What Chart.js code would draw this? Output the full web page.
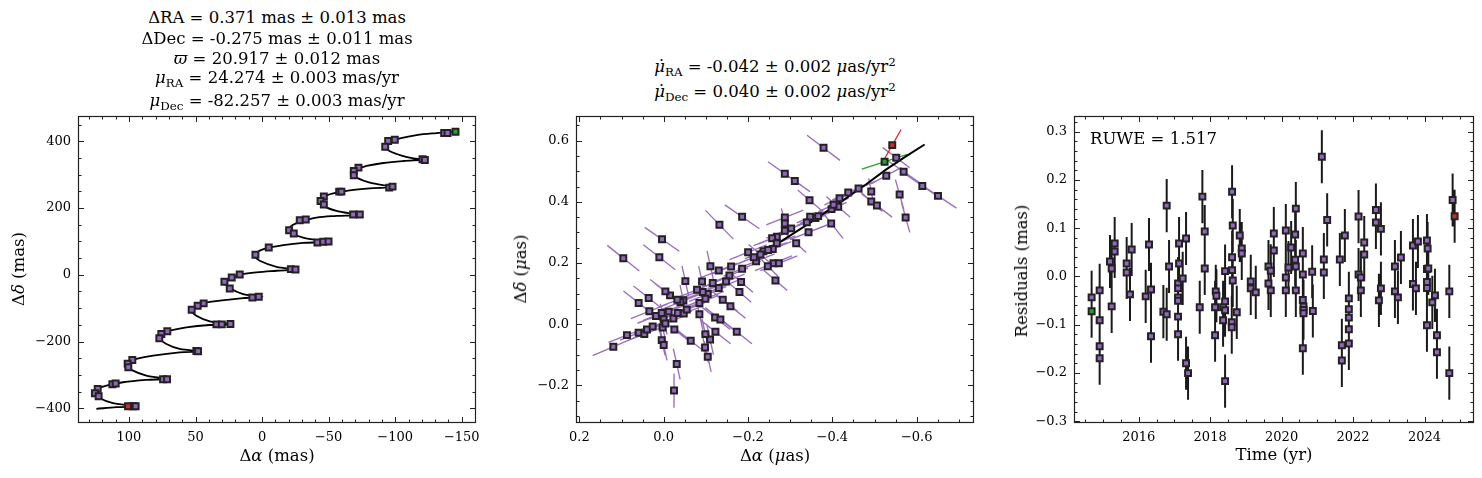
<!DOCTYPE html>
<html>
<head>
<meta charset="utf-8">
<script src="https://cdn.jsdelivr.net/npm/chart.js@4.4.1/dist/chart.umd.min.js"></script>
<style>
  body { margin: 0; background: #fff; }
  #fig { position: relative; width: 1482px; height: 478px; overflow: hidden; font-family: 'DejaVu Serif', serif; color: #000; }
  canvas { position: absolute; top: 110px; }
  .t { position: absolute; text-align: center; font-size: 16.5px; line-height: 20px; white-space: nowrap; }
  .t sub { font-size: 0.72em; vertical-align: -0.3em; line-height: 0; }
  .t sup { font-size: 0.72em; vertical-align: 0.5em; line-height: 0; }
  .yl { position: absolute; font-size: 16.5px; line-height: 20px; white-space: nowrap; transform: translate(-50%, -50%) rotate(-90deg); }
</style>
</head>
<body>
<div id="fig">
  <canvas id="c1" width="490" height="368" style="left:0"></canvas>
  <canvas id="c2" width="490" height="368" style="left:500px"></canvas>
  <canvas id="c3" width="482" height="368" style="left:1000px"></canvas>

  <div class="t" style="left:78px;width:398px;top:8px">ΔRA = 0.371 mas ± 0.013 mas</div>
  <div class="t" style="left:78px;width:398px;top:29px">ΔDec = -0.275 mas ± 0.011 mas</div>
  <div class="t" style="left:78px;width:398px;top:49px"><i>ϖ</i> = 20.917 ± 0.012 mas</div>
  <div class="t" style="left:78px;width:398px;top:68px"><i>μ</i><sub>RA</sub> = 24.274 ± 0.003 mas/yr</div>
  <div class="t" style="left:78px;width:398px;top:91px"><i>μ</i><sub>Dec</sub> = -82.257 ± 0.003 mas/yr</div>

  <div class="t" style="left:576px;width:398px;top:57px"><i>μ̇</i><sub>RA</sub> = -0.042 ± 0.002 <i>μ</i>as/yr<sup>2</sup></div>
  <div class="t" style="left:576px;width:398px;top:82px"><i>μ̇</i><sub>Dec</sub> = 0.040 ± 0.002 <i>μ</i>as/yr<sup>2</sup></div>

  <div class="t" style="left:78px;width:398px;top:446px">Δ<i>α</i> (mas)</div>
  <div class="t" style="left:576px;width:398px;top:446px">Δ<i>α</i> (<i>μ</i>as)</div>
  <div class="t" style="left:1074px;width:400px;top:445px">Time (yr)</div>
  <div class="yl" style="left:19px;top:269px">Δ<i>δ</i> (mas)</div>
  <div class="yl" style="left:521px;top:269px">Δ<i>δ</i> (<i>μ</i>as)</div>
  <div class="yl" style="left:1022px;top:271px">Residuals (mas)</div>

  <div class="t" style="left:1090px;top:129px;text-align:left">RUWE = 1.517</div>
</div>

<script>
// ---- panel 1: sky track (mas) ----
const trackX = [-144.8, -131.1, -116.0, -103.5, -96.0, -92.2, -94.7, -103.5, -113.5, -121.5,
  -106.0, -91.0, -78.4, -70.9, -68.4, -70.9, -80.9, -97.2,
  -80.9, -65.9, -53.4, -45.9, -43.4, -45.9, -55.9, -70.9,
  -55.9, -40.8, -30.8, -23.3, -20.0, -23.8, -30.8, -45.9,
  -30.8, -15.8, -3.3, 4.3, 5.5, 1.8, -10.8, -24.6,
  -10.8, 4.3, 16.8, 23.1, 28.1, 24.3, 14.3, -0.3,
  14.3, 31.8, 44.4, 50.6, 53.1, 49.4, 39.3, 23.1,
  39.3, 56.9, 69.4, 74.4, 76.9, 71.9, 61.9, 46.9,
  61.9, 81.9, 94.5, 99.5, 101.5, 98.2, 87.0, 71.9,
  87.0, 104.5, 117.0, 123.3, 125.8, 123.3, 112.0, 95.0,
  109.5, 124.5];
const trackY = [428.5, 424.5, 418.5, 408.6, 398.6, 387.6, 372.7, 358.7, 348.8, 344.8,
  340.8, 334.8, 325.9, 315.9, 300.9, 291.0, 276.0, 263.1,
  259.1, 253.1, 244.1, 233.2, 219.2, 206.3, 191.3, 179.4,
  176.4, 171.4, 161.4, 149.5, 133.5, 121.6, 111.6, 98.7,
  95.7, 88.7, 79.7, 66.8, 55.8, 41.9, 23.9, 15.9,
  12.0, 7.0, 0.0, -10.0, -20.9, -39.9, -57.8, -65.8,
  -69.8, -77.7, -85.7, -97.7, -107.6, -122.6, -139.5, -148.5,
  -150.5, -157.4, -167.4, -175.4, -190.3, -207.3, -222.2, -229.2,
  -232.2, -242.1, -252.1, -260.1, -272.0, -285.0, -301.9, -311.9,
  -314.9, -321.9, -331.8, -341.8, -354.8, -366.7, -384.6, -393.6,
  -396.6, -401.6];

const posX = [-136.8, -139.3, -94.7, -99.7, -92.5, -120.5, -122.3, -72.4, -68.9, -68.9,
  -95.5, -98.0, -57.9, -59.6, -46.4, -43.9, -46.4, -68.4, -73.4, -28.3,
  -32.8, -20.3, -23.8, -41.6, -45.9, -49.9, -5.0, 5.0, -21.6, -25.1,
  16.8, 22.8, 28.3, 24.3, 7.3, 2.5, 43.9, 48.4, 52.9, 34.3,
  30.3, 23.8, 71.2, 75.7, 77.2, 49.4, 48.1, 97.5, 101.0, 100.5,
  74.4, 71.4, 112.5, 110.0, 123.5, 125.6, 122.8, 97.0, 95.0];
const posY = [424.5, 424.5, 400.6, 404.6, 383.7, 345.8, 343.8, 320.9, 310.9, 298.0,
  261.1, 264.1, 249.1, 249.1, 234.2, 221.2, 210.3, 180.4, 180.4, 163.4,
  165.4, 133.5, 123.6, 96.7, 98.7, 99.7, 81.7, 59.8, 16.9, 15.9,
  1.0, -8.0, -20.9, -40.9, -67.8, -65.8, -85.7, -92.7, -104.6, -148.5,
  -148.5, -147.5, -169.4, -177.4, -190.3, -228.2, -229.2, -255.1, -266.1, -277.0,
  -312.9, -312.9, -327.8, -325.9, -341.8, -354.8, -363.7, -393.6, -393.6];
const posFirst = [-145.3, 428.5];   // green, first epoch
const posLast = [100.7, -393.6];    // red, last epoch

const ticks1X = [100, 50, 0, -50, -100, -150];
const ticks1Y = [-400, -200, 0, 200, 400];

// ---- panel 2: acceleration residuals (uas) ----
const accX = [-0.3791, -0.5516, -0.2873, -0.3110, -0.3459, -0.5279, -0.5691, -0.6134, -0.6506, -0.4923,
  -0.4923, -0.5057, -0.5596, -0.5738, -0.4622, -0.4377, -0.4171, -0.4139, -0.3981, -0.4028,
  -0.3973, -0.3601, -0.3664, -0.3474, -0.3395, -0.3435, -0.3142, -0.2873, -0.2873, -0.2873,
  -0.3023, -0.2683, -0.2572, -0.2683, -0.2588, -0.2604, -0.2731, -0.2651, -0.2366, -0.2477,
  -0.2295, -0.2469, -0.2192, -0.2137, -0.2002, -0.1860, -0.1322, -0.1860, -0.1836, -0.1797,
  -0.1599, -0.1559, -0.1480, -0.1306, -0.1306, -0.1108, -0.1163, -0.1045, -0.0926, -0.0791,
  -0.0847, -0.0910, -0.0514, -0.0467, -0.0396, -0.0324, -0.0150, -0.0040, 0.0356, 0.0594,
  0.0340, 0.0182, 0.0047, 0.0000, -0.0119, -0.0230, -0.0253, -0.0332, -0.0475, -0.0546,
  -0.0847, -0.0989, -0.1401, -0.1583, -0.1219, -0.1345, -0.1733, -0.1227, -0.1100, -0.0989,
  -0.1045, -0.0981, -0.0641, 0.0047, 0.0000, 0.0024, -0.0040, -0.0309, -0.0245, 0.1195,
  0.0871, 0.0594, 0.0459, 0.0396, 0.0261, 0.0958, 0.0040, 0.0103];
const accY = [0.5767, 0.5442, 0.4921, 0.4683, 0.4054, 0.4856, 0.4986, 0.4520, 0.4195, 0.4336,
  0.4011, 0.3881, 0.4238, 0.3491, 0.4434, 0.4304, 0.4119, 0.3837, 0.3762, 0.3902,
  0.3295, 0.3469, 0.3534, 0.3512, 0.3328, 0.3003, 0.2645, 0.3491, 0.3295, 0.3057,
  0.3133, 0.2862, 0.2808, 0.2645, 0.2461, 0.1995, 0.1995, 0.1431, 0.2385, 0.2428,
  0.2276, 0.1897, 0.2060, 0.2190, 0.2352, 0.3512, 0.3252, 0.1810, 0.1377, 0.1051,
  0.1886, 0.1593, 0.1398, 0.1756, 0.1182, 0.1897, 0.1344, 0.0986, 0.1051, 0.1127,
  0.0694, 0.1398, 0.1409, 0.0780, 0.0726, 0.0802, 0.0943, 0.1073, 0.0856, 0.0694,
  0.0423, 0.0271, 0.0369, 0.0163, 0.0412, 0.0184, -0.0173, 0.0369, 0.0347, 0.0477,
  0.0325, 0.0835, 0.0802, 0.0585, 0.0217, 0.0152, -0.0249, -0.0249, -0.0499, -0.0325,
  -0.1062, -0.0759, -0.0542, -0.0520, -0.0683, -0.0108, 0.0022, -0.1301, -0.2168, -0.0737,
  -0.0358, -0.0282, -0.0325, -0.0173, -0.0076, 0.2157, 0.2775, 0.2190];
// half extent of each error line (uas), along RA and Dec
const accEx = [-0.039, -0.032, -0.040, -0.036, -0.028, -0.036, -0.040, -0.040, -0.044, -0.006,
  -0.026, -0.036, -0.010, -0.010, -0.040, -0.038, -0.036, -0.028, -0.036, -0.036,
  -0.028, -0.044, -0.044, -0.032, -0.044, -0.044, -0.024, -0.044, -0.008, -0.044,
  -0.044, -0.044, -0.044, -0.044, -0.044, -0.044, -0.044, -0.028, -0.044, -0.044,
  -0.028, -0.024, -0.044, -0.044, -0.044, -0.041, -0.033, -0.044, -0.028, -0.028,
  -0.044, -0.044, -0.044, -0.044, -0.044, -0.008, -0.044, -0.044, -0.044, -0.044,
  -0.044, -0.008, -0.008, -0.008, -0.044, -0.044, -0.036, -0.036, -0.036, -0.036,
  -0.044, -0.044, -0.044, -0.008, -0.044, -0.044, -0.036, -0.044, -0.044, -0.044,
  -0.008, -0.044, -0.036, -0.036, -0.036, -0.036, -0.036, -0.036, -0.008, -0.008,
  -0.008, -0.008, -0.036, -0.008, -0.008, -0.008, -0.044, -0.008, 0.000, -0.049,
  -0.044, -0.044, -0.044, -0.044, -0.044, -0.038, -0.041, -0.038];
const accEy = [-0.041, -0.033, -0.039, -0.035, -0.033, 0.027, -0.038, -0.038, -0.040, -0.043,
  -0.033, -0.038, -0.049, -0.049, 0.024, 0.024, 0.022, -0.033, 0.022, 0.022,
  -0.049, 0.024, 0.024, 0.020, 0.024, 0.024, -0.030, 0.024, -0.049, 0.024,
  0.024, 0.024, 0.024, 0.024, 0.024, 0.024, 0.024, -0.033, 0.024, 0.024,
  -0.033, -0.033, 0.024, 0.024, 0.024, -0.039, -0.047, 0.024, -0.033, -0.033,
  0.024, 0.024, 0.024, 0.024, 0.024, -0.050, 0.024, 0.024, 0.024, 0.024,
  0.024, -0.050, -0.050, -0.050, 0.024, 0.024, -0.039, -0.039, -0.039, -0.039,
  0.024, 0.024, 0.024, -0.050, 0.024, 0.024, -0.039, 0.024, 0.024, 0.024,
  -0.050, 0.024, -0.039, -0.039, -0.039, -0.039, -0.039, -0.039, -0.050, -0.050,
  -0.050, -0.050, -0.039, -0.050, -0.050, -0.050, 0.024, -0.050, -0.056, 0.029,
  0.024, 0.024, 0.024, 0.024, 0.024, -0.042, -0.039, -0.041];
const accFirst = [-0.5239, 0.5312, -0.054, 0.024];  // green: x, y, half ex, half ey
const accLast = [-0.5421, 0.5854, -0.021, 0.051];   // red
const modelX = [-0.2746, -0.3459, -0.4131, -0.4804, -0.5279, -0.5754, -0.6189];
const modelY = [0.2678, 0.3306, 0.3935, 0.4575, 0.5062, 0.5496, 0.5875];

const ticks2X = [0.2, 0.0, -0.2, -0.4, -0.6];
const ticks2Y = [-0.2, 0.0, 0.2, 0.4, 0.6];

// ---- panel 3: residuals vs time ----
const residT = [2014.683,
  2014.908, 2014.908, 2014.908, 2014.908,
  2015.197, 2015.244, 2015.244, 2015.328, 2015.328,
  2015.664, 2015.664, 2015.757, 2015.804,
  2016.196, 2016.289, 2016.345, 2016.345,
  2016.691, 2016.784, 2016.784, 2016.850,
  2017.102, 2017.102, 2017.102, 2017.102, 2017.102, 2017.102,
  2017.130, 2017.130, 2017.232, 2017.326, 2017.326, 2017.382,
  2017.709, 2017.783, 2017.849, 2017.849,
  2018.138, 2018.157, 2018.176, 2018.138,
  2018.362, 2018.362, 2018.418, 2018.418, 2018.418, 2018.418,
  2018.614, 2018.633, 2018.614, 2018.614, 2018.633, 2018.605, 2018.605, 2018.745,
  2018.829, 2018.885, 2018.885,
  2019.137, 2019.137, 2019.277,
  2019.632, 2019.632, 2019.697, 2019.697, 2019.782, 2019.782,
  2020.118, 2020.118, 2020.118,
  2020.192, 2020.267, 2020.379, 2020.398, 2020.379, 2020.398, 2020.398,
  2020.594, 2020.594, 2020.594, 2020.613, 2020.613, 2020.613, 2020.594,
  2020.855, 2020.874,
  2021.126, 2021.182, 2021.182, 2021.275,
  2021.630, 2021.686, 2021.686, 2021.770,
  2021.882, 2021.882, 2021.882, 2021.882, 2021.882,
  2022.153, 2022.153, 2022.218, 2022.218, 2022.312, 2022.312,
  2022.639, 2022.639, 2022.779, 2022.779, 2022.723,
  2023.171, 2023.171, 2023.255, 2023.339,
  2023.675, 2023.675, 2023.759, 2023.815,
  2024.067, 2024.086, 2024.067, 2024.067, 2024.067, 2024.067, 2024.105,
  2024.217, 2024.291, 2024.347, 2024.347,
  2024.693, 2024.693, 2024.786];
const residR = [-0.0434,
  -0.0289, -0.0909, -0.1446, -0.1694,
  0.0310, 0.0165, -0.0620, 0.0682, 0.0517,
  0.0269, 0.0083, -0.0372, 0.0558,
  -0.0413, 0.0661, -0.0269, -0.1240,
  -0.0730, 0.1467, -0.0785, 0.0207,
  -0.0145, -0.0248, -0.0434, -0.0503, -0.0833, -0.1198,
  0.0682, 0.0269, -0.0041, 0.0785, -0.1798, -0.2004,
  -0.0640, 0.1653, 0.0930, 0.0165,
  -0.1219, -0.0310, -0.0399, -0.0640,
  -0.0640, -0.0909, -0.0517, -0.0702, -0.2169, 0.0110,
  0.1756, 0.1054, 0.0399, 0.0131, -0.0083, -0.0950, -0.1054, -0.0744,
  0.0847, 0.0579, 0.0475,
  -0.0103, -0.0248, -0.0331,
  0.0207, -0.0145, 0.0117, -0.0289, 0.0888, 0.0537,
  0.0950, -0.0021, -0.0289,
  0.0186, 0.0599, 0.0868, 0.1405, 0.0344, 0.0207, -0.0289,
  0.0475, 0.0041, -0.0489, -0.0620, -0.0696, -0.0764, -0.1488,
  0.0096, -0.0716,
  0.2479, 0.0351, 0.0083, 0.1171,
  0.0351, -0.1426, -0.1742, 0.0847,
  -0.0455, -0.0682, -0.0854, -0.1095, -0.1391,
  0.1240, 0.0041, -0.0021, -0.0289, 0.0702, 0.0455,
  0.1377, 0.1116, 0.0985, -0.0248, -0.0496,
  0.0207, -0.0310, -0.0434, 0.0393,
  -0.0158, 0.0640, -0.0248, 0.0723,
  0.0744, 0.0579, 0.0152, -0.0117, -0.0241, -0.1012, 0.0165,
  -0.0537, -0.0393, -0.1219, -0.1570,
  -0.0310, -0.2004, 0.1584];
const residFirst = [2014.683, -0.0723];
const residLast = [2024.842, 0.1247];
const residSigma = 0.055;   // bars all look the same length

const ticks3X = [2016, 2018, 2020, 2022, 2024];
const ticks3Y = [-0.3, -0.2, -0.1, 0.0, 0.1, 0.2, 0.3];

// ---- helpers ----
const PURPLE = '#9467bd', RED = '#d62728', GREEN = '#2ca02c', EDGE = '#222';
const FONT = { family: "'DejaVu Serif', serif", size: 13 };
Chart.defaults.color = '#000';

const pts = (xs, ys) => xs.map((x, i) => ({ x, y: ys[i] }));
const minus = (s) => String(s).replace('-', '\u2212');

// line pieces through each point, split by null gaps
function pieces(xs, ys, ex, ey) {
  const out = [];
  xs.forEach((x, i) => {
    out.push({ x: x - ex[i], y: ys[i] - ey[i] }, { x: x + ex[i], y: ys[i] + ey[i] }, { x, y: null });
  });
  return out;
}

function marker(data, color, order) {
  return {
    data, order,
    pointStyle: 'rect', pointRadius: 4.2, pointHoverRadius: 4.2,
    pointBorderWidth: 2, pointHoverBorderWidth: 2,
    pointBackgroundColor: color, pointBorderColor: EDGE
  };
}

function lineSet(data, color, width, order, tension) {
  return {
    data, order, showLine: true, spanGaps: false,
    borderColor: color, borderWidth: width, tension: tension || 0,
    pointRadius: 0, pointHoverRadius: 0
  };
}

// inward ticks on all four sides, plus the box
const frameTicks = {
  id: 'frameTicks',
  afterDraw(chart, args, o) {
    const { ctx, chartArea: a, scales: { x, y } } = chart;
    ctx.save();
    ctx.strokeStyle = '#222';
    ctx.lineWidth = 1;
    const L = Math.round(a.left) + 0.5, R = Math.round(a.right) - 0.5;
    const T = Math.round(a.top) + 0.5, B = Math.round(a.bottom) - 0.5;
    const vals = (min, max, step) => {
      const v = [];
      for (let k = Math.ceil(min / step - 1e-9); k <= Math.floor(max / step + 1e-9); k++) v.push(k * step);
      return v;
    };
    const drawX = (list, len) => list.forEach(v => {
      const p = Math.round(x.getPixelForValue(v)) + 0.5;
      if (p < L || p > R) return;
      ctx.beginPath();
      ctx.moveTo(p, B); ctx.lineTo(p, B - len);
      ctx.moveTo(p, T); ctx.lineTo(p, T + len);
      ctx.stroke();
    });
    const drawY = (list, len) => list.forEach(v => {
      const p = Math.round(y.getPixelForValue(v)) + 0.5;
      if (p < T || p > B) return;
      ctx.beginPath();
      ctx.moveTo(L, p); ctx.lineTo(L + len, p);
      ctx.moveTo(R, p); ctx.lineTo(R - len, p);
      ctx.stroke();
    });
    drawX(vals(x.min, x.max, o.xMinor), 3);
    drawY(vals(y.min, y.max, o.yMinor), 3);
    drawX(o.xMajor, 5.5);
    drawY(o.yMajor, 5.5);
    ctx.lineWidth = 1.2;
    ctx.strokeRect(L, T, R - L, B - T);
    ctx.restore();
  }
};

function makeChart(id, datasets, ax) {
  return new Chart(document.getElementById(id), {
    type: 'scatter',
    data: { datasets },
    plugins: [frameTicks],
    options: {
      responsive: false, animation: false, events: [],
      layout: { padding: { left: 0, right: ax.padRight, top: 5, bottom: 0 } },
      plugins: {
        legend: { display: false }, tooltip: { enabled: false },
        frameTicks: { xMajor: ax.xTicks, yMajor: ax.yTicks, xMinor: ax.xMinor, yMinor: ax.yMinor }
      },
      scales: {
        x: {
          type: 'linear', min: ax.xMin, max: ax.xMax, reverse: !!ax.xReverse,
          grid: { display: false, drawTicks: false }, border: { display: false },
          ticks: { font: FONT, padding: 7, maxRotation: 0, autoSkip: false, callback: ax.xFmt },
          afterBuildTicks: s => { s.ticks = ax.xTicks.map(v => ({ value: v })); },
          afterFit: s => { s.height = 55; s.paddingLeft = 0; s.paddingRight = 0; }
        },
        y: {
          type: 'linear', min: ax.yMin, max: ax.yMax,
          grid: { display: false, drawTicks: false }, border: { display: false },
          ticks: { font: FONT, padding: 7, autoSkip: false, callback: ax.yFmt },
          afterBuildTicks: s => { s.ticks = ax.yTicks.map(v => ({ value: v })); },
          afterFit: s => { s.width = ax.yWidth; s.paddingTop = 0; s.paddingBottom = 0; }
        }
      }
    }
  });
}

// ---- panel 1 ----
makeChart('c1', [
  marker(pts([posFirst[0]], [posFirst[1]]), GREEN, 0),
  marker(pts([posLast[0]], [posLast[1]]), RED, 0),
  marker(pts(posX, posY), PURPLE, 1),
  lineSet(pts(trackX, trackY), '#000', 1.8, 2, 0.35)
], {
  xMin: -160.7, xMax: 138.3, xReverse: true, yMin: -444, yMax: 475,
  xTicks: ticks1X, yTicks: ticks1Y, xMinor: 10, yMinor: 50,
  yWidth: 78, padRight: 14,
  xFmt: v => minus(v), yFmt: v => minus(v)
});

// ---- panel 2 ----
makeChart('c2', [
  marker(pts([accFirst[0]], [accFirst[1]]), GREEN, 0),
  marker(pts([accLast[0]], [accLast[1]]), RED, 0),
  marker(pts(accX, accY), PURPLE, 1),
  lineSet(pts(modelX, modelY), '#000', 2, 2),
  lineSet(pieces([accFirst[0]], [accFirst[1]], [accFirst[2]], [accFirst[3]]), GREEN, 1.3, 3),
  lineSet(pieces([accLast[0]], [accLast[1]], [accLast[2]], [accLast[3]]), RED, 1.3, 3),
  lineSet(pieces(accX, accY, accEx, accEy), 'rgba(148,103,189,0.95)', 1.35, 4)
], {
  xMin: -0.736, xMax: 0.208, xReverse: true, yMin: -0.323, yMax: 0.680,
  xTicks: ticks2X, yTicks: ticks2Y, xMinor: 0.05, yMinor: 0.05,
  yWidth: 76, padRight: 16,
  xFmt: v => minus(v.toFixed(1)), yFmt: v => minus(v.toFixed(1))
});

// ---- panel 3 ----
const bars = [];
residT.concat([residFirst[0], residLast[0]]).forEach((t, i) => {
  const r = i < residR.length ? residR[i] : (i === residR.length ? residFirst[1] : residLast[1]);
  bars.push({ x: t, y: r - residSigma }, { x: t, y: r + residSigma }, { x: t, y: null });
});
makeChart('c3', [
  marker(pts([residFirst[0]], [residFirst[1]]), GREEN, 0),
  marker(pts([residLast[0]], [residLast[1]]), RED, 0),
  marker(pts(residT, residR), PURPLE, 1),
  lineSet(bars, '#1a1a1a', 2, 2)
], {
  xMin: 2014.19, xMax: 2025.37, yMin: -0.3037, yMax: 0.332,
  xTicks: ticks3X, yTicks: ticks3Y, xMinor: 0.5, yMinor: 0.02,
  yWidth: 74, padRight: 8.5,
  xFmt: v => String(v), yFmt: v => minus(v.toFixed(1))
});
</script>
</body>
</html>
